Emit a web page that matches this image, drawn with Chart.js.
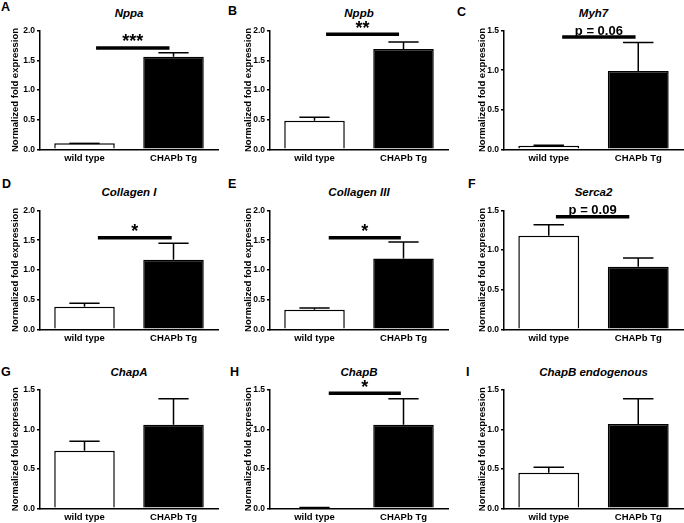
<!DOCTYPE html>
<html>
<head>
<meta charset="utf-8">
<script src="https://cdn.jsdelivr.net/npm/chart.js@4/dist/chart.umd.min.js"></script>
<style>
  body { margin: 0; background: #fff; }
  #wrap { position: relative; width: 684px; height: 523px; overflow: hidden; font-family: "Liberation Sans", Arial, sans-serif; }
  canvas { position: absolute; }
  .letter { position: absolute; font-weight: bold; font-size: 12.5px; line-height: 12px; color: #000; }
  .title { position: absolute; font-weight: bold; font-style: italic; font-size: 11.5px; line-height: 12px; color: #000; transform: translate(-50%, -50%); white-space: nowrap; }
</style>
</head>
<body>
<div id="wrap"></div>
<script>
// data
const categories = ['wild type', 'CHAPb Tg'];
const panelLetters = ['A', 'B', 'C', 'D', 'E', 'F', 'G', 'H', 'I'];
const genes = ['Nppa', 'Nppb', 'Myh7', 'Collagen I', 'Collagen III', 'Serca2', 'ChapA', 'ChapB', 'ChapB endogenous'];
const wildTypeMean = [0.10, 0.48, 0.045, 0.38, 0.33, 1.18, 0.73, 0.01, 0.45];
const wildTypeUpper = [0.10, 0.54, 0.05, 0.44, 0.36, 1.32, 0.85, 0.01, 0.52];
const transgenicMean = [1.56, 1.69, 0.99, 1.17, 1.19, 0.79, 1.06, 1.06, 1.07];
const transgenicUpper = [1.63, 1.81, 1.35, 1.45, 1.47, 0.90, 1.39, 1.39, 1.39];
const yMax = [2.0, 2.0, 1.5, 2.0, 2.0, 1.5, 1.5, 1.5, 1.5];
const sigLabel = ['***', '**', 'p = 0.06', '*', '*', 'p = 0.09', null, '*', null];
const sigLevel = [1.71, 1.94, 1.42, 1.54, 1.54, 1.42, null, 1.46, null];
const sigFrom = [0.13, 0.13, 0.15, 0.15, 0.16, 0.08, null, 0.16, null];
const sigTo = [0.955, 0.95, 0.97, 0.98, 0.97, 0.90, null, 0.97, null];

// layout of the 3x3 grid
const colX0 = [0, 228, 455], colW = [228, 227, 229];
const axisX = [40, 270, 504], rightX = [218, 448, 683];
const titleOff = [25, 22, 22];
const rowY0 = [0, 168, 345], rowH = [168, 177, 178];
const topY = [30.7, 210.5, 390], zeroY = [149.3, 329.3, 508.3];
const titleY = [13, 191.7, 372];
const letterPos = [[1, 1], [228, 5], [457, 6], [2, 178], [228, 178], [468, 178], [1, 366], [230, 366], [466, 366]];

const FONT = '"Liberation Sans", Arial, sans-serif';
const wrap = document.getElementById('wrap');

const extrasPlugin = {
  id: 'extras',
  afterDatasetsDraw(chart, args, opts) {
    const ctx = chart.ctx;
    const xs = chart.scales.x, ys = chart.scales.y;
    const bars = chart.getDatasetMeta(0).data;
    ctx.save();
    ctx.strokeStyle = '#000';
    ctx.lineWidth = 1.5;
    bars.forEach((bar, j) => {
      const top = ys.getPixelForValue(opts.upper[j]);
      const half = bar.width / 4;
      ctx.beginPath();
      ctx.moveTo(bar.x, bar.y);
      ctx.lineTo(bar.x, top);
      ctx.moveTo(bar.x - half, top);
      ctx.lineTo(bar.x + half, top);
      ctx.stroke();
    });
    if (opts.label) {
      const y = ys.getPixelForValue(opts.level);
      const x1 = xs.getPixelForValue(opts.from), x2 = xs.getPixelForValue(opts.to);
      ctx.lineWidth = 3.5;
      ctx.beginPath();
      ctx.moveTo(x1, y);
      ctx.lineTo(x2, y);
      ctx.stroke();
      ctx.fillStyle = '#000';
      ctx.textAlign = 'center';
      ctx.textBaseline = 'alphabetic';
      const stars = opts.label.indexOf('*') === 0;
      ctx.font = 'bold ' + (stars ? 18 : 13) + 'px ' + FONT;
      ctx.fillText(opts.label, (x1 + x2) / 2, stars ? y - 0.5 : y - 2.5);
    }
    ctx.restore();
  }
};

genes.forEach((gene, i) => {
  const c = i % 3, r = Math.floor(i / 3);

  const letter = document.createElement('div');
  letter.className = 'letter';
  letter.textContent = panelLetters[i];
  letter.style.left = letterPos[i][0] + 'px';
  letter.style.top = letterPos[i][1] + 'px';
  wrap.appendChild(letter);

  const title = document.createElement('div');
  title.className = 'title';
  title.textContent = gene;
  title.style.left = ((axisX[c] + rightX[c]) / 2) + 'px';
  title.style.top = titleY[r] + 'px';
  wrap.appendChild(title);

  const canvas = document.createElement('canvas');
  canvas.width = colW[c];
  canvas.height = rowH[r];
  canvas.style.left = colX0[c] + 'px';
  canvas.style.top = rowY0[r] + 'px';
  wrap.appendChild(canvas);

  const yWidth = axisX[c] - colX0[c];
  const xHeight = rowY0[r] + rowH[r] - zeroY[r];

  new Chart(canvas.getContext('2d'), {
    type: 'bar',
    data: {
      labels: categories,
      datasets: [{
        data: [wildTypeMean[i], transgenicMean[i]],
        backgroundColor: ['#fff', '#000'],
        borderColor: '#000',
        borderWidth: 1.5,
        categoryPercentage: 1,
        barPercentage: 0.68
      }]
    },
    options: {
      responsive: false,
      animation: false,
      layout: { padding: { top: topY[r] - rowY0[r], right: colX0[c] + colW[c] - rightX[c], left: 0, bottom: 0 } },
      plugins: {
        legend: { display: false },
        tooltip: { enabled: false },
        extras: {
          upper: [wildTypeUpper[i], transgenicUpper[i]],
          label: sigLabel[i], level: sigLevel[i], from: sigFrom[i], to: sigTo[i]
        }
      },
      scales: {
        x: {
          z: 1,
          grid: { display: false, drawTicks: false },
          border: { display: true, color: '#000', width: 1.5 },
          ticks: { color: '#000', padding: 3, font: { family: FONT, size: 9.5, weight: 'bold' } },
          afterFit: s => { s.height = xHeight; }
        },
        y: {
          min: 0,
          max: yMax[i],
          grid: { drawOnChartArea: false, drawTicks: true, tickLength: 3, color: '#000', lineWidth: 1.5 },
          border: { display: true, color: '#000', width: 1.5 },
          ticks: {
            stepSize: 0.5, color: '#000', padding: 2,
            font: { family: FONT, size: 8.5, weight: 'bold' },
            callback: v => Number(v).toFixed(1)
          },
          title: {
            display: true, text: 'Normalized fold expression', color: '#000',
            font: { family: FONT, size: 9.5, weight: 'bold', lineHeight: 1.2 },
            padding: { top: yWidth - titleOff[c] - 5.7, bottom: 0 }
          },
          afterFit: s => { s.width = yWidth; }
        }
      }
    },
    plugins: [extrasPlugin]
  });
});
</script>
</body>
</html>
